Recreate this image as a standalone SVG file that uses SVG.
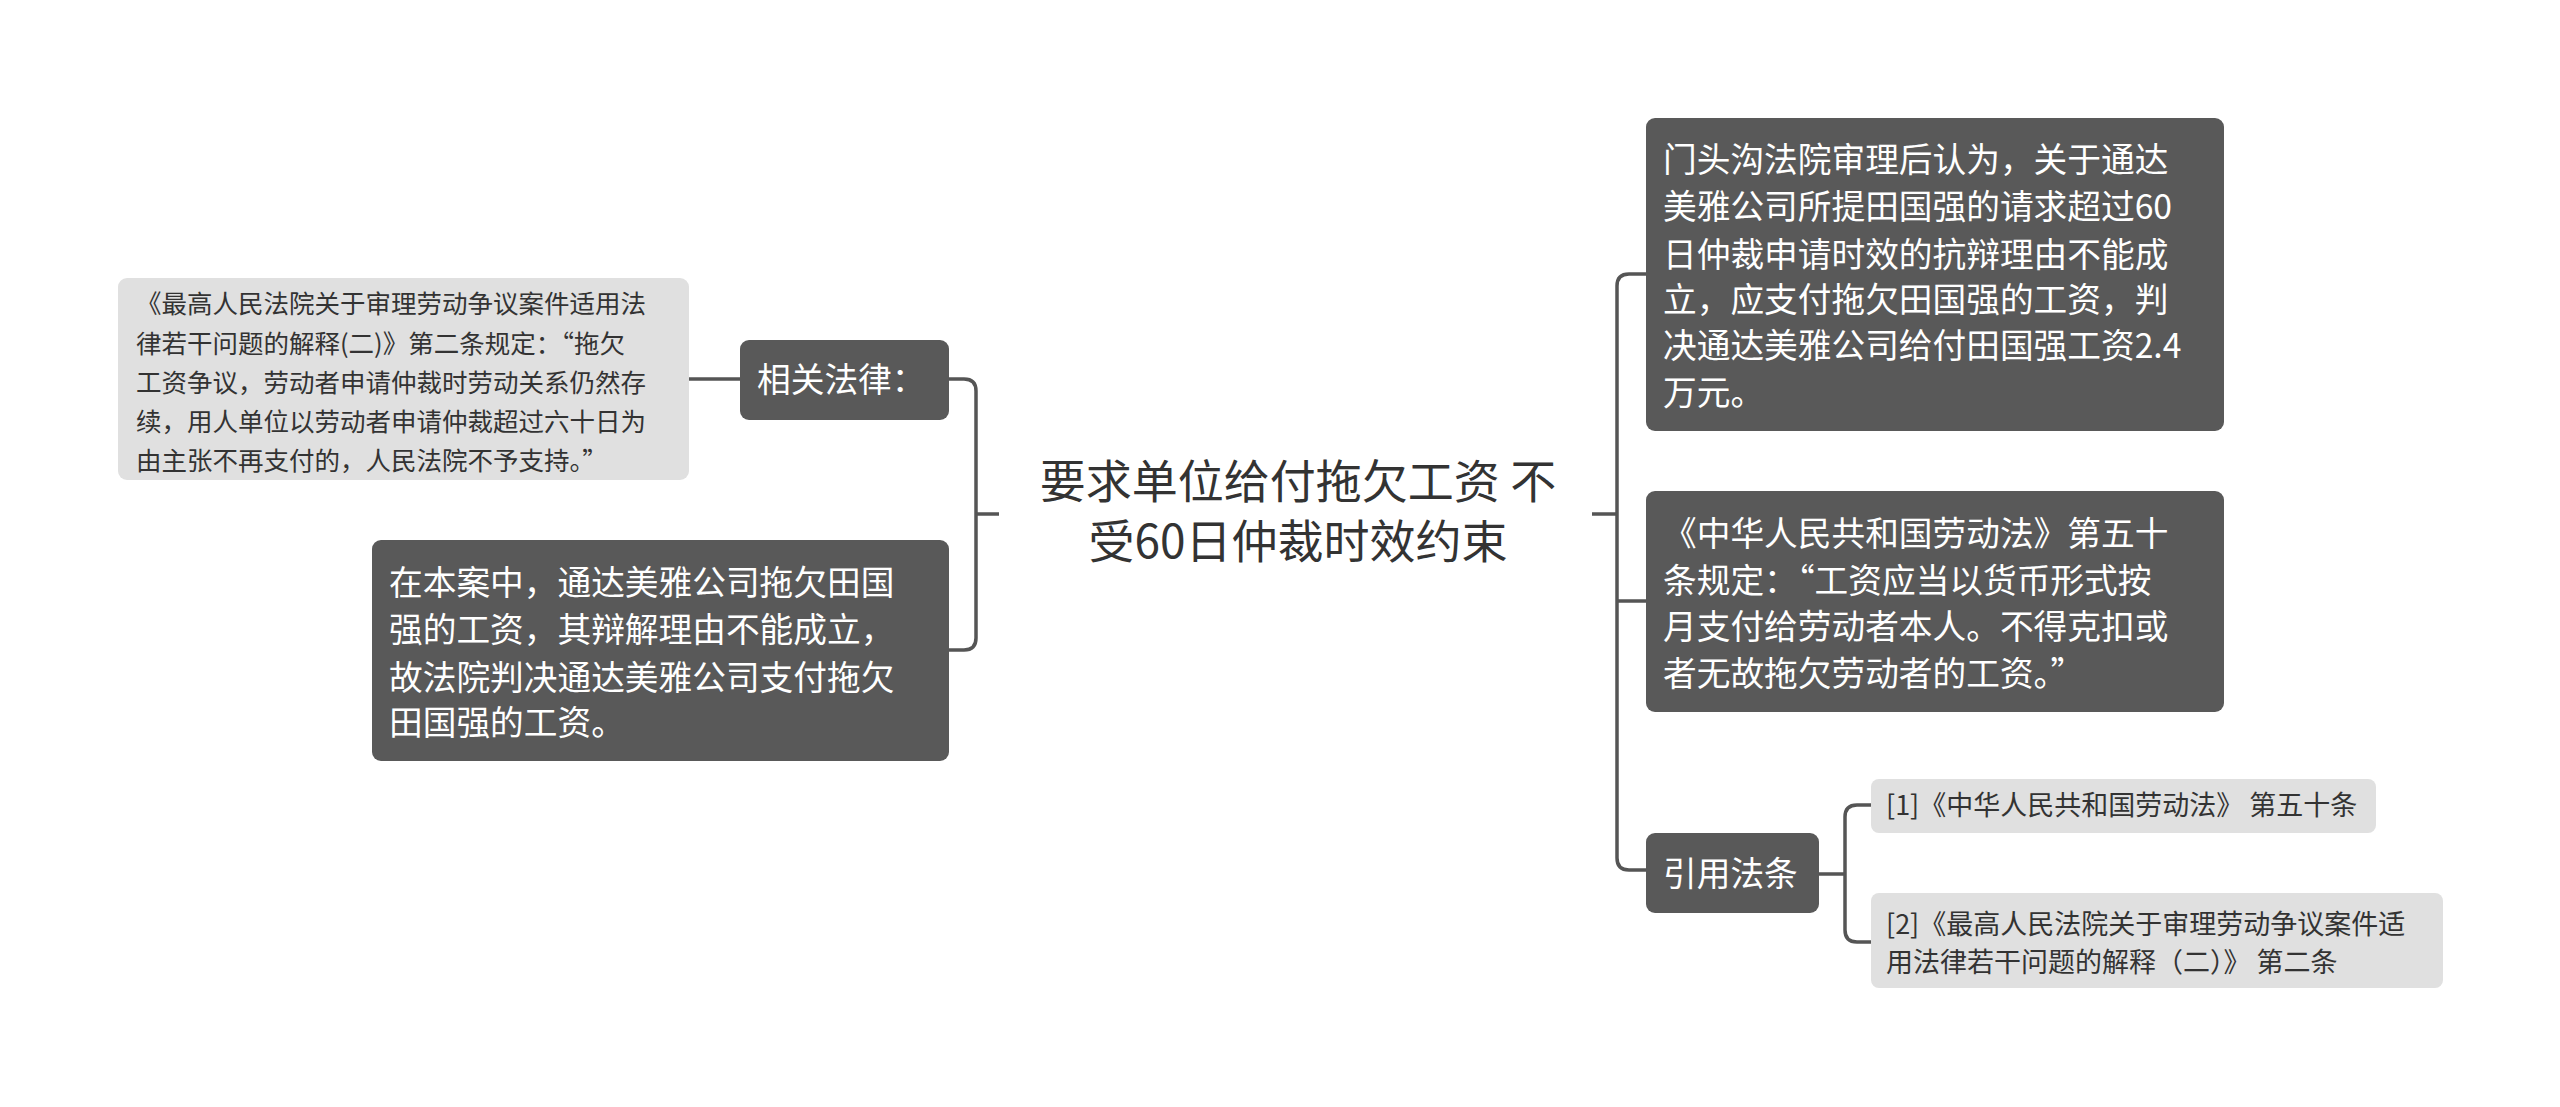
<svg xmlns="http://www.w3.org/2000/svg" width="2560" height="1107" viewBox="0 0 2560 1107">
<style>
text{font-family:"Noto Sans CJK SC","Noto Sans",sans-serif}
.d{fill:#595959}
.l{fill:#e0e0e0}
.w{fill:#fff;font-size:33.7px}
.s{fill:#333;font-size:25.5px}
.t{fill:#333;font-size:27px}
.c{fill:none;stroke:#555;stroke-width:3.5}
</style>
<rect width="2560" height="1107" fill="#fff"/>
<g id="connectors" class="c">
<path d="M999 514H976M949 379H964Q976 379 976 391V638Q976 650 964 650H949"/>
<path d="M740 379H689"/>
<path d="M1592 514H1617M1646 274H1629Q1617 274 1617 286V858Q1617 870 1629 870H1646M1617 601H1646"/>
<path d="M1819 874H1845M1871 805H1857Q1845 805 1845 817V930Q1845 942 1857 942H1871"/>
</g>
<g id="center"><text x="1298" y="498" text-anchor="middle" font-size="46" fill="#333">要求单位给付拖欠工资 不</text><text x="1298" y="558" text-anchor="middle" font-size="46" fill="#333">受60日仲裁时效约束</text></g>
<g id="law"><rect class="d" x="740" y="340" width="209" height="80" rx="9"/><text class="w" x="757" y="392">相关法律：</text></g>
<g id="law-text"><rect class="l" x="118" y="278" width="571" height="202" rx="9"/>
<text class="s" x="136" y="313">《最高人民法院关于审理劳动争议案件适用法</text>
<text class="s" x="136" y="353">律若干问题的解释(二)》第二条规定：“拖欠</text>
<text class="s" x="136" y="392">工资争议，劳动者申请仲裁时劳动关系仍然存</text>
<text class="s" x="136" y="431">续，用人单位以劳动者申请仲裁超过六十日为</text>
<text class="s" x="136" y="470">由主张不再支付的，人民法院不予支持。”</text></g>
<g id="case"><rect class="d" x="372" y="540" width="577" height="221" rx="9"/>
<text class="w" x="389" y="595">在本案中，通达美雅公司拖欠田国</text>
<text class="w" x="389" y="642">强的工资，其辩解理由不能成立，</text>
<text class="w" x="389" y="690">故法院判决通达美雅公司支付拖欠</text>
<text class="w" x="389" y="735">田国强的工资。</text></g>
<g id="court"><rect class="d" x="1646" y="118" width="578" height="313" rx="9"/>
<text class="w" x="1663" y="172">门头沟法院审理后认为，关于通达</text>
<text class="w" x="1663" y="219">美雅公司所提田国强的请求超过60</text>
<text class="w" x="1663" y="267">日仲裁申请时效的抗辩理由不能成</text>
<text class="w" x="1663" y="312">立，应支付拖欠田国强的工资，判</text>
<text class="w" x="1663" y="358">决通达美雅公司给付田国强工资2.4</text>
<text class="w" x="1663" y="405">万元。</text></g>
<g id="labor-law"><rect class="d" x="1646" y="491" width="578" height="221" rx="9"/>
<text class="w" x="1663" y="546">《中华人民共和国劳动法》第五十</text>
<text class="w" x="1663" y="593">条规定：“工资应当以货币形式按</text>
<text class="w" x="1663" y="639">月支付给劳动者本人。不得克扣或</text>
<text class="w" x="1663" y="686">者无故拖欠劳动者的工资。”</text></g>
<g id="cite"><rect class="d" x="1646" y="833" width="173" height="80" rx="9"/><text class="w" x="1663" y="886">引用法条</text></g>
<g id="cite1"><rect class="l" x="1871" y="779" width="505" height="54" rx="8"/><text class="t" x="1886" y="815">[1]《中华人民共和国劳动法》 第五十条</text></g>
<g id="cite2"><rect class="l" x="1871" y="893" width="572" height="95" rx="8"/><text class="t" x="1886" y="934">[2]《最高人民法院关于审理劳动争议案件适</text><text class="t" x="1886" y="972">用法律若干问题的解释（二）》 第二条</text></g>
</svg>
